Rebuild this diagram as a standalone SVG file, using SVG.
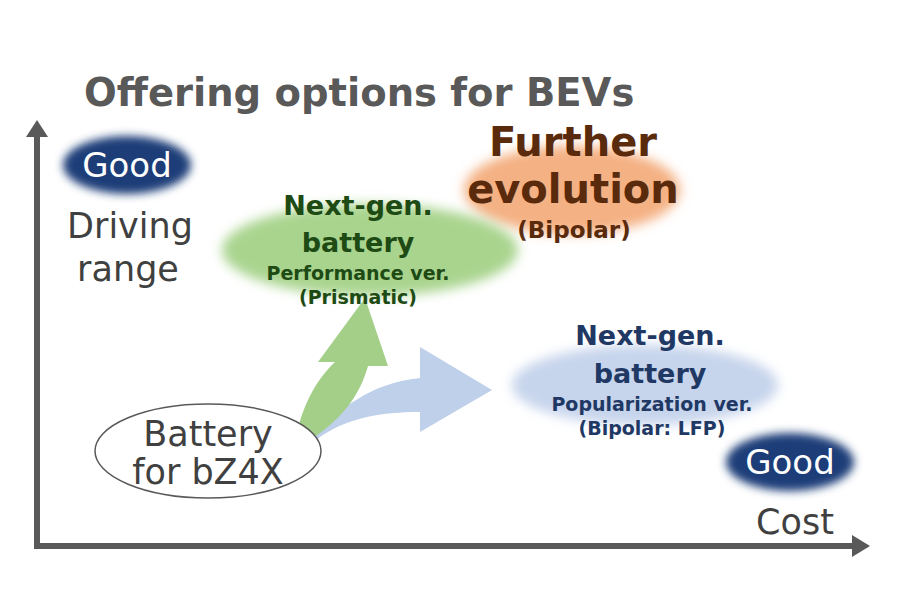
<svg xmlns="http://www.w3.org/2000/svg" width="900" height="600" viewBox="0 0 900 600">
<defs>
<filter id="soft" x="-30%" y="-30%" width="160%" height="160%"><feGaussianBlur stdDeviation="6"/></filter>
<filter id="soft2" x="-30%" y="-30%" width="160%" height="160%"><feGaussianBlur stdDeviation="4"/></filter>
</defs>
<style>
text{font-family:"DejaVu Sans","Liberation Sans",sans-serif;text-anchor:middle}
.ttl{font-size:38.5px;font-weight:bold;fill:#595959;text-anchor:start}
.good{font-size:34px;fill:#ffffff}
.lab{font-size:35px;fill:#404040}
.g{fill:#1e4a14;font-weight:bold}
.o{fill:#5a2a0c;font-weight:bold}
.b{fill:#1f3864;font-weight:bold}
.big{font-size:27px}
.sm{font-size:19px}
</style>
<rect width="900" height="600" fill="#ffffff"/>
<text class="ttl" x="84" y="106">Offering options for BEVs</text>
<g id="axes">
<line x1="37" y1="548" x2="37" y2="132" stroke="#595959" stroke-width="6"/>
<path d="M26,137 L37,120 L48,137 z" fill="#595959"/>
<line x1="34" y1="546" x2="856" y2="546" stroke="#595959" stroke-width="6"/>
<path d="M852,535 L870,546 L852,557 z" fill="#595959"/>
</g>
<g id="good-range">
<ellipse cx="127" cy="165" rx="64" ry="29" fill="#1f3c78" filter="url(#soft2)"/>
<text class="good" x="127" y="177">Good</text>
<text class="lab" x="130" y="238">Driving</text>
<text class="lab" x="128" y="281">range</text>
</g>
<g id="good-cost">
<ellipse cx="790" cy="462" rx="64" ry="29" fill="#1f3c78" filter="url(#soft2)"/>
<text class="good" x="790" y="474">Good</text>
<text class="lab" x="795" y="534">Cost</text>
</g>
<g id="connectors">
<path d="M313,434 C340,410 370,383 420,378 L420,347 L492,390 L420,432 L420,412 C380,412 345,418 316,440 z" fill="#bed0ea"/>
<path d="M297,432 C305,400 318,378 335,362 L318,362 L365,298 L388,366 L368,366 C360,395 342,418 316,436 z" fill="#a3cf88"/>
</g>
<g id="further-evolution">
<ellipse cx="572" cy="190" rx="108" ry="44" fill="#f4b183" filter="url(#soft)"/>
<text class="o" x="573" y="156" font-size="40">Further</text>
<text class="o" x="573" y="203" font-size="40">evolution</text>
<text class="o" x="574" y="238" font-size="23">(Bipolar)</text>
</g>
<g id="performance">
<ellipse cx="370" cy="250" rx="148" ry="46" fill="#a9d48e" filter="url(#soft)"/>
<text class="g big" x="358" y="215">Next-gen.</text>
<text class="g big" x="358" y="252">battery</text>
<text class="g sm" x="358" y="280">Performance ver.</text>
<text class="g sm" x="358" y="304">(Prismatic)</text>
</g>
<g id="popularization">
<ellipse cx="645" cy="385" rx="133" ry="40" fill="#c6d4ec" filter="url(#soft)"/>
<text class="b big" x="650" y="345">Next-gen.</text>
<text class="b big" x="650" y="383">battery</text>
<text class="b sm" x="652" y="411">Popularization ver.</text>
<text class="b sm" x="652" y="435">(Bipolar: LFP)</text>
</g>
<g id="bz4x">
<ellipse cx="208" cy="451" rx="113" ry="47" fill="#ffffff" stroke="#595959" stroke-width="1.5"/>
<text class="lab" x="208" y="446" font-size="26">Battery</text>
<text class="lab" x="208" y="484" font-size="26">for bZ4X</text>
</g>
</svg>
